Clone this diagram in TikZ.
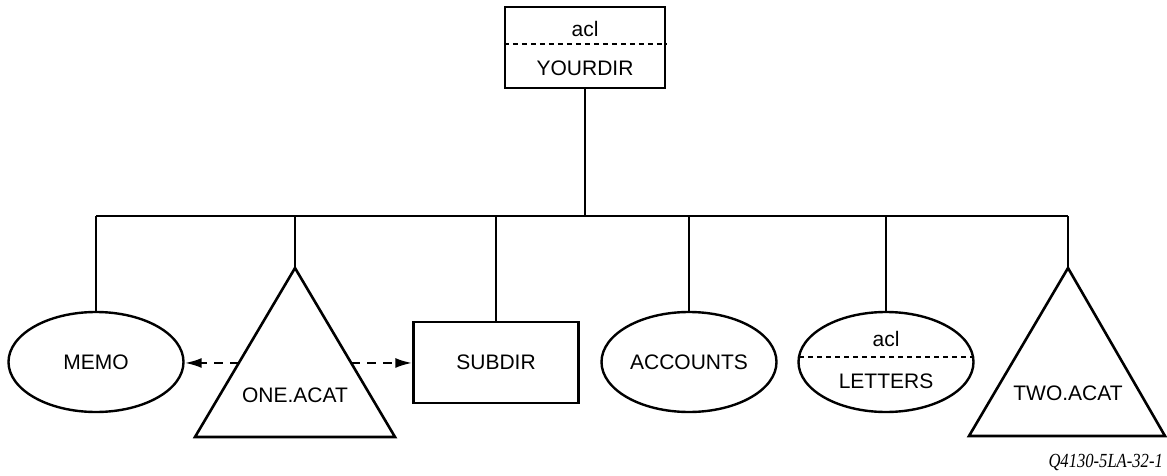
\documentclass[tikz,border=0pt]{standalone}
\usepackage{fontspec}
\setmainfont{Liberation Sans}
\newfontfamily\serifit{Liberation Serif}
\usetikzlibrary{shapes.geometric,arrows.meta,calc}

\begin{document}
\begin{tikzpicture}[x=1pt,y=-1pt,
  every node/.style={font=\fontsize{21}{25}\selectfont},
  link/.style={line width=2.4pt},
  boxnode/.style={draw,line width=2.4pt,rectangle,inner sep=0pt,minimum width=165pt,minimum height=81pt},
  ovalnode/.style={draw,line width=2.4pt,ellipse,inner sep=0pt,minimum width=175pt,minimum height=100pt},
  acat/.style={line width=2.6pt,line join=miter},
  splitline/.style={line width=2.4pt,dash pattern=on 5pt off 4pt},
  ref/.style={line width=2.4pt,dash pattern=on 9pt off 7pt,-{Latex[length=17pt,width=10pt]}}
]
\useasboundingbox (0,0) rectangle (1167,476);

% root directory with its acl
\node[boxnode,minimum width=160pt] (yourdir) at (585,47.5) {};
\node (rootacl) at (585,29) {acl};
\node (rootname) at (585,68) {YOURDIR};
\coordinate (ysplit) at (0,44);
\draw[splitline] (yourdir.west |- ysplit) -- (yourdir.east |- ysplit);

% children
\node[ovalnode] (memo) at (96,362) {MEMO};
\node[boxnode] (subdir) at (496,362.5) {SUBDIR};
\node[ovalnode] (accounts) at (689,362) {ACCOUNTS};
\node[ovalnode] (letters) at (886,362) {};
\node (lettersacl) at (886,339) {acl};
\node (lettersname) at (886,381) {LETTERS};
\draw[splitline] ($(letters.center)+(-87,-5)$) -- ($(letters.center)+(87,-5)$);

% access-control catalogs
\coordinate (oneTop) at (295,268);
\coordinate (oneL) at (195,437);
\coordinate (oneR) at (395,437);
\draw[acat] (oneTop) -- (oneL) -- (oneR) -- cycle;
\node (one) at (295,395) {ONE.ACAT};

\coordinate (twoTop) at (1068,268);
\coordinate (twoL) at (969,436);
\coordinate (twoR) at (1165,436);
\draw[acat] (twoTop) -- (twoL) -- (twoR) -- cycle;
\node (two) at (1068,393) {TWO.ACAT};

% tree connectors
\coordinate (bar) at (0,216);
\draw[link] (yourdir.south) -- (yourdir.south |- bar);
\draw[link] (memo.north |- bar) -- (twoTop |- bar);
\foreach \c in {memo,subdir,accounts,letters}
  \draw[link] (\c.north) -- (\c.north |- bar);
\draw[link] (oneTop) -- (oneTop |- bar);
\draw[link] (twoTop) -- (twoTop |- bar);

% catalog references
\coordinate (oneW) at ($(oneTop)!0.562!(oneL)$);
\coordinate (oneE) at ($(oneTop)!0.562!(oneR)$);
\draw[ref] (oneW) -- (oneW -| memo.east);
\draw[ref] (oneE) -- (oneE -| subdir.west);

\node[font=\serifit\itshape\fontsize{20}{22}\selectfont,xscale=0.83,anchor=base east,inner sep=0pt] (tag) at (1163,467) {Q4130-5LA-32-1};
\end{tikzpicture}
\end{document}
